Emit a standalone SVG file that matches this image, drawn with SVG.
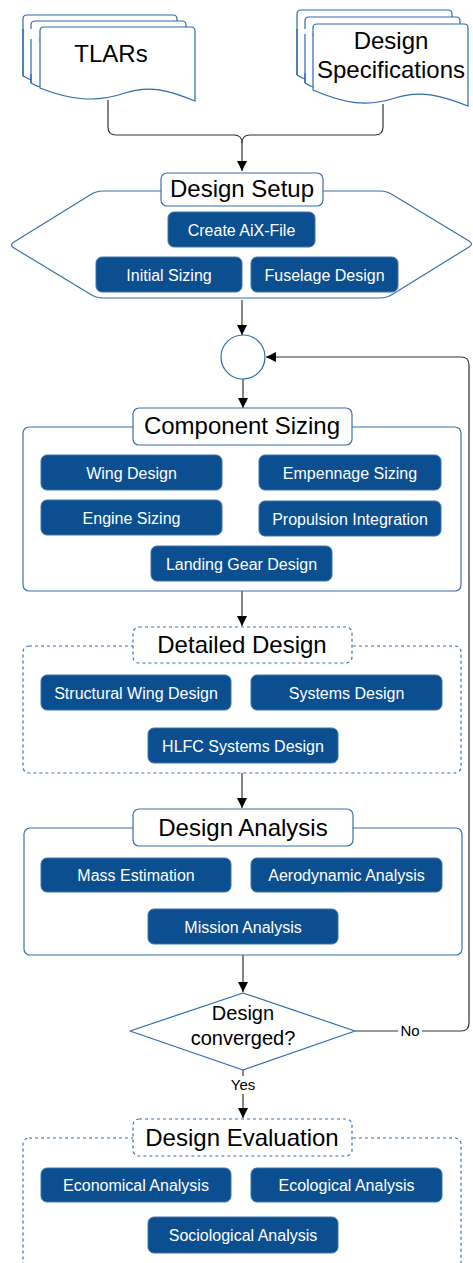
<svg xmlns="http://www.w3.org/2000/svg" width="473" height="1263" viewBox="0 0 473 1263">
  <defs>
    <marker id="arrow" viewBox="0 0 10 10" refX="10" refY="5" markerWidth="10" markerHeight="10" markerUnits="userSpaceOnUse" orient="auto">
      <path d="M0,0 L10,5 L0,10 Z" fill="#000"/>
    </marker>
  </defs>
  <style>
    .doc { fill: #fff; stroke: #2e6aa8; stroke-width: 1.2; }
    .frame { fill: #fff; stroke: #3a70ad; stroke-width: 1.2; }
    .dashed { stroke-dasharray: 3 3; }
    .title { font-family: "Liberation Sans", Arial, sans-serif; font-size: 24px; fill: #000; text-anchor: middle; }
    .btn rect { fill: #0b4f91; stroke: #3d74ad; stroke-width: 1; }
    .btn text { font-family: "Liberation Sans", Arial, sans-serif; font-size: 16px; fill: #fff; text-anchor: middle; }
    .edge { fill: none; stroke: #333; stroke-width: 1.2; }
    .elabel { font-family: "Liberation Sans", Arial, sans-serif; font-size: 15px; fill: #000; text-anchor: middle; }
  </style>
  <rect width="473" height="1263" fill="#fff"/>

  <!-- Connectors -->
  <g id="connectors">
    <path class="edge" d="M108,100 V127 Q108,135 116,135 H234 Q242,135 242,143 V171" marker-end="url(#arrow)"/>
    <path class="edge" d="M383,104 V127 Q383,135 375,135 H250 Q242,135 242,143"/>
    <path class="edge" d="M242,300 V335" marker-end="url(#arrow)"/>
    <path class="edge" d="M243,379 V408" marker-end="url(#arrow)"/>
    <path class="edge" d="M242,591 V626" marker-end="url(#arrow)"/>
    <path class="edge" d="M242,773 V808" marker-end="url(#arrow)"/>
    <path class="edge" d="M243,955 V992" marker-end="url(#arrow)"/>
    <path class="edge" d="M243,1070 V1118" marker-end="url(#arrow)"/>
    <path class="edge" d="M355,1031 H461 Q469,1031 469,1023 V365 Q469,357 461,357 H266" marker-end="url(#arrow)"/>
    <rect x="398" y="1021" width="24" height="18" fill="#fff"/>
    <text class="elabel" x="410" y="1036">No</text>
    <rect x="228" y="1076" width="30" height="18" fill="#fff"/>
    <text class="elabel" x="243" y="1090">Yes</text>
  </g>

  <!-- TLARs (multiple documents) -->
  <g id="tlars">
    <path class="doc" d="M23,76 V19 Q23,15 27,15 H173 Q177,15 177,19 V30 H23 Z"/>
    <path class="doc" d="M31,83 V25 Q31,21 35,21 H182 Q186,21 186,25 V40 H31 Z"/>
    <path class="doc" d="M40,88 V31 Q40,27 44,27 H191 Q195,27 195,31 V101 C168,90 150,85 125,93 C96,103 70,100 40,88 Z"/>
    <rect x="24" y="29" width="15" height="45" fill="#fff"/>
    <path d="M23,29 V76 C27,78 29,79 31,80" fill="none" stroke="#2e6aa8" stroke-width="1.2"/>
    <rect x="32" y="39" width="7" height="42" fill="#fff"/>
    <path d="M31,39 V83 C34,85 37,86 40,87" fill="none" stroke="#2e6aa8" stroke-width="1.2"/>
    <text class="title" x="111" y="62">TLARs</text>
  </g>

  <!-- Design Specifications (multiple documents) -->
  <g id="design-specs">
    <path class="doc" d="M297,75 V14 Q297,10 301,10 H448 Q452,10 452,14 V30 H297 Z"/>
    <path class="doc" d="M305,83 V21 Q305,17 309,17 H456 Q460,17 460,21 V35 H305 Z"/>
    <path class="doc" d="M313,90 V28 Q313,24 317,24 H464 Q468,24 468,28 V106 C440,95 420,90 395,98 C368,107 345,104 313,90 Z"/>
    <rect x="298" y="29" width="14" height="44" fill="#fff"/>
    <path d="M297,29 V75 C300,77 302,78 305,79" fill="none" stroke="#2e6aa8" stroke-width="1.2"/>
    <rect x="306" y="34" width="6" height="48" fill="#fff"/>
    <path d="M305,34 V83 C308,85 310,86 313,87" fill="none" stroke="#2e6aa8" stroke-width="1.2"/>
    <text class="title" x="391" y="49">Design</text>
    <text class="title" x="391" y="78">Specifications</text>
  </g>

  <!-- Design Setup -->
  <g id="design-setup">
    <path class="frame" d="M103,191 H380 Q387,191 393,195 L469,241 Q474,244 469,247 L393,294 Q387,298 380,298 H103 Q96,298 90,294 L14,248 Q9,245 14,242 L90,195 Q96,191 103,191 Z"/>
    <rect class="frame" x="161" y="173" width="162" height="33" rx="6"/>
    <text class="title" x="242" y="197">Design Setup</text>
    <g class="btn" id="create-aix-file"><rect x="168" y="212" width="147" height="35" rx="6"/><text x="241.5" y="235.5">Create AiX-File</text></g>
    <g class="btn" id="initial-sizing"><rect x="96" y="257" width="146" height="35" rx="6"/><text x="169" y="280.5">Initial Sizing</text></g>
    <g class="btn" id="fuselage-design"><rect x="251" y="257" width="147" height="35" rx="6"/><text x="324.5" y="280.5">Fuselage Design</text></g>
  </g>

  <!-- Loop junction -->
  <g id="junction">
    <circle cx="243" cy="357" r="22" fill="#fff" stroke="#2e6aa8" stroke-width="1.2"/>
  </g>

  <!-- Component Sizing -->
  <g id="component-sizing">
    <rect class="frame" x="23" y="427" width="438" height="164" rx="6"/>
    <rect class="frame" x="133" y="408" width="219" height="37" rx="6"/>
    <text class="title" x="242" y="434">Component Sizing</text>
    <g class="btn" id="wing-design"><rect x="41" y="455" width="181" height="35" rx="6"/><text x="131.5" y="478.5">Wing Design</text></g>
    <g class="btn" id="empennage-sizing"><rect x="259" y="455" width="182" height="35" rx="6"/><text x="350" y="478.5">Empennage Sizing</text></g>
    <g class="btn" id="engine-sizing"><rect x="41" y="500" width="181" height="35" rx="6"/><text x="131.5" y="523.5">Engine Sizing</text></g>
    <g class="btn" id="propulsion-integration"><rect x="259" y="501" width="182" height="35" rx="6"/><text x="350" y="524.5">Propulsion Integration</text></g>
    <g class="btn" id="landing-gear-design"><rect x="151" y="546" width="181" height="35" rx="6"/><text x="241.5" y="569.5">Landing Gear Design</text></g>
  </g>

  <!-- Detailed Design -->
  <g id="detailed-design">
    <rect class="frame dashed" x="23" y="646" width="438" height="127" rx="6"/>
    <rect class="frame dashed" x="133" y="627" width="219" height="36" rx="6"/>
    <text class="title" x="242" y="653">Detailed Design</text>
    <g class="btn" id="structural-wing-design"><rect x="41" y="675" width="190" height="35" rx="6"/><text x="136" y="698.5">Structural Wing Design</text></g>
    <g class="btn" id="systems-design"><rect x="251" y="675" width="191" height="35" rx="6"/><text x="346.5" y="698.5">Systems Design</text></g>
    <g class="btn" id="hlfc-systems-design"><rect x="148" y="728" width="190" height="35" rx="6"/><text x="243" y="751.5">HLFC Systems Design</text></g>
  </g>

  <!-- Design Analysis -->
  <g id="design-analysis">
    <rect class="frame" x="24" y="828" width="438" height="127" rx="6"/>
    <rect class="frame" x="133" y="809" width="220" height="37" rx="6"/>
    <text class="title" x="243" y="836">Design Analysis</text>
    <g class="btn" id="mass-estimation"><rect x="41" y="858" width="190" height="34" rx="6"/><text x="136" y="881">Mass Estimation</text></g>
    <g class="btn" id="aerodynamic-analysis"><rect x="251" y="858" width="191" height="34" rx="6"/><text x="346.5" y="881">Aerodynamic Analysis</text></g>
    <g class="btn" id="mission-analysis"><rect x="148" y="909" width="190" height="35" rx="6"/><text x="243" y="932.5">Mission Analysis</text></g>
  </g>

  <!-- Convergence check -->
  <g id="design-converged">
    <path d="M243,993 L355,1031 L243,1070 L130,1031 Z" fill="#fff" stroke="#2e6aa8" stroke-width="1.2" stroke-linejoin="round"/>
    <text class="title" style="font-size:20px" x="243" y="1020">Design</text>
    <text class="title" style="font-size:20px" x="243" y="1045">converged?</text>
  </g>

  <!-- Design Evaluation -->
  <g id="design-evaluation">
    <rect class="frame dashed" x="23" y="1138" width="438" height="140" rx="6"/>
    <rect class="frame dashed" x="133" y="1119" width="219" height="37" rx="6"/>
    <text class="title" x="242" y="1146">Design Evaluation</text>
    <g class="btn" id="economical-analysis"><rect x="41" y="1168" width="190" height="34" rx="6"/><text x="136" y="1191">Economical Analysis</text></g>
    <g class="btn" id="ecological-analysis"><rect x="251" y="1168" width="191" height="34" rx="6"/><text x="346.5" y="1191">Ecological Analysis</text></g>
    <g class="btn" id="sociological-analysis"><rect x="148" y="1217" width="190" height="36" rx="6"/><text x="243" y="1241">Sociological Analysis</text></g>
  </g>
</svg>
